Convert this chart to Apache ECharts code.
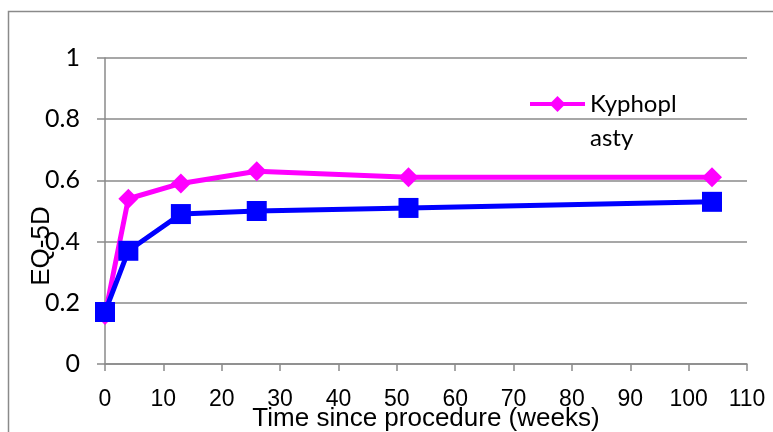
<!DOCTYPE html>
<html><head><meta charset="utf-8">
<script src="https://cdn.jsdelivr.net/npm/echarts@6/dist/echarts.min.js"></script>
<style>html,body{margin:0;padding:0;background:#fff}#c{width:773px;height:432px}</style>
</head><body><div id="c"></div>
<script>
const weeks = [0, 4, 13, 26, 52, 104];
const kyphoplasty = [0.16, 0.54, 0.59, 0.63, 0.61, 0.61];
const control = [0.17, 0.37, 0.49, 0.50, 0.51, 0.53];
const xTicks = [0, 10, 20, 30, 40, 50, 60, 70, 80, 90, 100, 110];
const yTicks = [0, 0.2, 0.4, 0.6, 0.8, 1];

const chart = echarts.init(document.getElementById('c'), null, {renderer: 'canvas'});
const gray = '#8a8a8a';
chart.setOption({
  animation: false,
  backgroundColor: '#fff',
  grid: {left: 105, right: 26, top: 58, bottom: 68, containLabel: false, outerBoundsMode: 'none'},
  graphic: [
    {type: 'rect', silent: true, shape: {x: 8.5, y: 11.5, width: 900, height: 600},
     style: {fill: null, stroke: gray, lineWidth: 1.5}},
    {type: 'text', x: 42, y: 246, rotation: Math.PI / 2,
     style: {text: 'EQ-5D', font: '26px "Liberation Sans", Arial, sans-serif', fill: '#000',
             align: 'center', verticalAlign: 'middle'}}
  ],
  legend: {
    left: 528, top: 53, padding: 0, itemWidth: 55, itemHeight: 20, itemGap: 5,
    data: ['Kyphoplasty'],
    lineStyle: {width: 4},
    formatter: () => ' \nKyphopl\nasty',
    textStyle: {fontFamily: 'Lato, "Open Sans", sans-serif', fontSize: 24, color: '#000',
                lineHeight: 34}
  },
  xAxis: {
    type: 'value', min: 0, max: 110, interval: 10,
    name: 'Time since procedure (weeks)', nameLocation: 'middle', nameGap: 42,
    nameMoveOverlap: false,
    nameTextStyle: {fontFamily: '"Liberation Sans", Arial, sans-serif', fontSize: 26, color: '#000'},
    axisLine: {show: true, lineStyle: {color: gray, width: 1.5}},
    axisTick: {show: true, length: 7, inside: false, lineStyle: {color: gray, width: 1.5}},
    axisLabel: {margin: 24, fontFamily: '"Liberation Sans", Arial, sans-serif', fontSize: 23, color: '#000',
                formatter: v => xTicks.includes(v) ? String(v) : ''},
    splitLine: {show: false}
  },
  yAxis: {
    type: 'value', min: 0, max: 1, interval: 0.2,
    axisLine: {show: true, lineStyle: {color: gray, width: 1.5}},
    axisTick: {show: true, length: 8, inside: false, lineStyle: {color: gray, width: 1.5}},
    axisLabel: {margin: 25, fontFamily: 'Lato, "Open Sans", sans-serif', fontSize: 25, color: '#000',
                formatter: v => { const t = yTicks.find(y => Math.abs(y - v) < 1e-9); return t === undefined ? '' : String(t); }},
    splitLine: {show: true, lineStyle: {color: gray, width: 1.5}}
  },
  series: [
    {name: 'Kyphoplasty', type: 'line', data: weeks.map((w, i) => [w, kyphoplasty[i]]),
     symbol: 'diamond', symbolSize: 20, lineStyle: {color: '#ff00ff', width: 5},
     itemStyle: {color: '#ff00ff'}, z: 2},
    {name: 'Control', type: 'line', data: weeks.map((w, i) => [w, control[i]]),
     symbol: 'rect', symbolSize: 20, lineStyle: {color: '#0000ff', width: 5},
     itemStyle: {color: '#0000ff'}, z: 3}
  ]
});
</script></body></html>
